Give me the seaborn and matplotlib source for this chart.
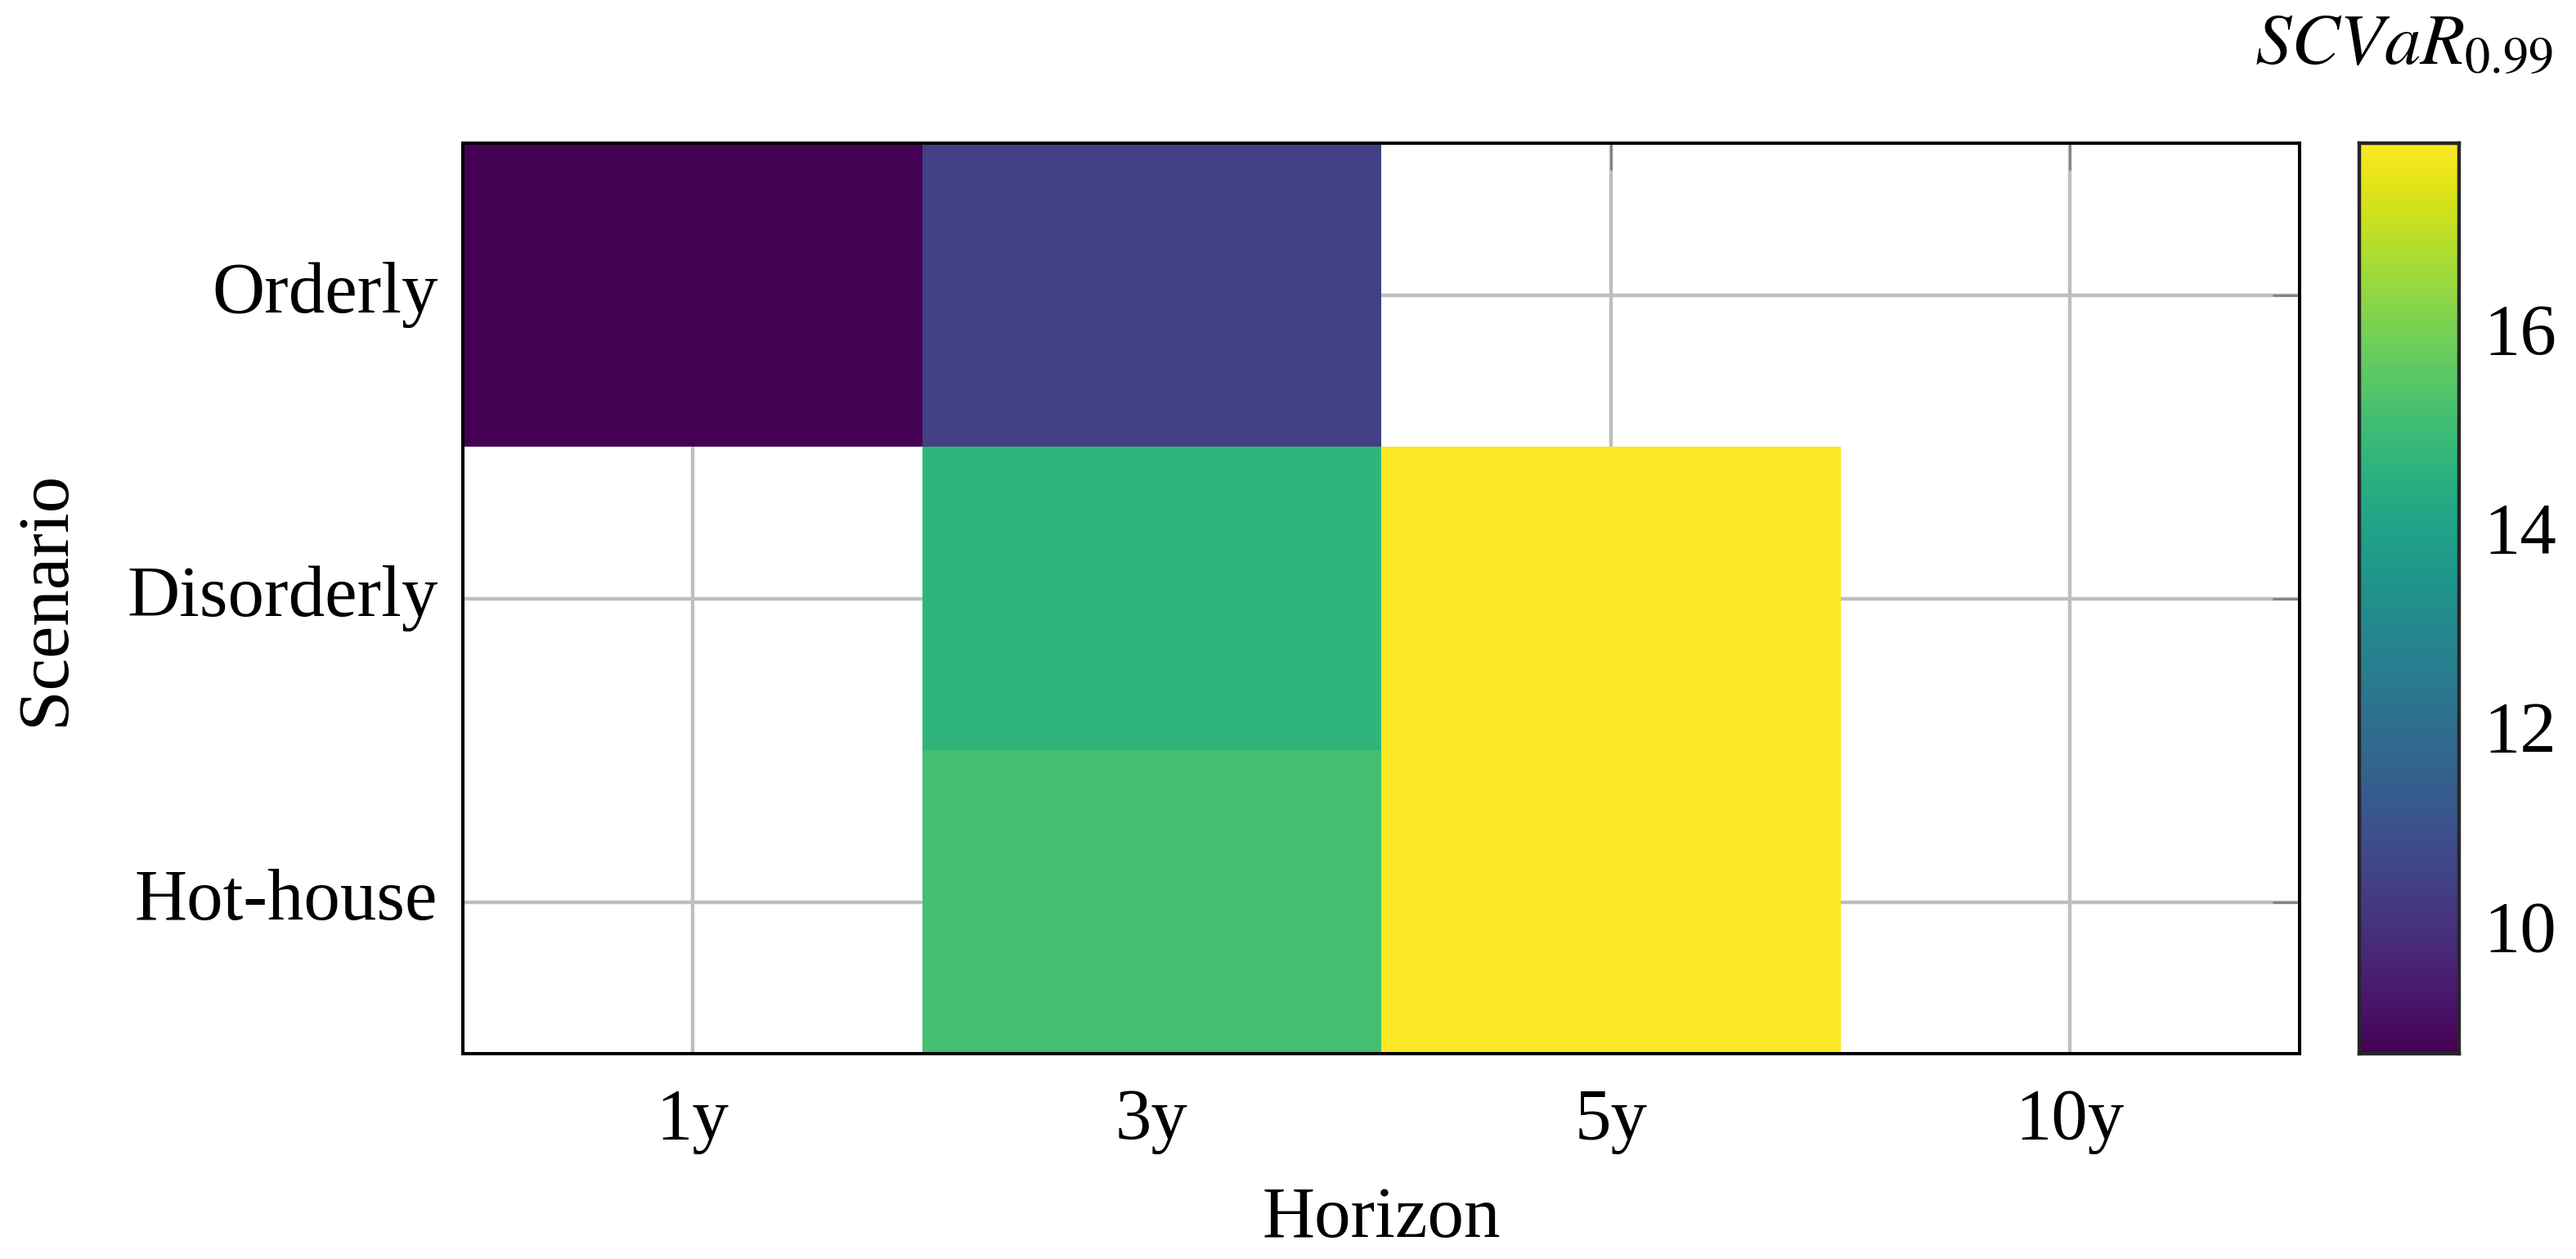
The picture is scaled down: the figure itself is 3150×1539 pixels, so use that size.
import matplotlib
matplotlib.use('Agg')
import matplotlib.pyplot as plt
import numpy as np
import pandas as pd
import seaborn as sns

# ---------------------------------------------------------------------------------------------------------
horizons = ['1y', '3y', '5y', '10y']
scenarios = ['Orderly', 'Disorderly', 'Hot-house']
orderly = [8.71, 10.4, np.nan, np.nan]
disorderly = [np.nan, 14.66, 17.87, np.nan]
hot_house = [np.nan, 15.12, 17.82, np.nan]
cbar_ticks = [10, 12, 14, 16]

sns.set_style('white')
plt.rcParams['font.family'] = ['Liberation Serif', 'DejaVu Serif']
plt.rcParams['mathtext.fontset'] = 'stix'
plt.rcParams.update({'font.size': 32, 'text.color': 'black',
                     'xtick.labelcolor': 'black', 'ytick.labelcolor': 'black',
                     'axes.labelcolor': 'black'})

df = pd.DataFrame([orderly, disorderly, hot_house], index=scenarios, columns=horizons)

fig = plt.figure(figsize=(15.75, 7.695), dpi=200)
ax = fig.add_axes([0.1797, 0.163, 0.713, 0.7233])
cax = fig.add_axes([0.9159, 0.163, 0.0387, 0.7233])

# grid sits under the cells, only visible where values are missing
ax.set_axisbelow(True)
sns.heatmap(df, ax=ax, cbar_ax=cax, cmap='viridis', vmin=8.71, vmax=17.87,
            cbar_kws={'ticks': cbar_ticks})
ax.grid(True, color='#bebebe', linewidth=1.6, zorder=0)

for side in ['left', 'right', 'top', 'bottom']:
    ax.spines[side].set_visible(True)
    ax.spines[side].set_color('black')
    ax.spines[side].set_linewidth(1.45)

ax.tick_params(axis='both', direction='in', length=12, width=1.0, color='#808080',
               top=True, right=True, labelsize=32)
ax.tick_params(axis='y', rotation=0, pad=11)
ax.tick_params(axis='x', rotation=0, pad=15)
ax.set_xlabel('Horizon', fontsize=32, labelpad=14)
ax.set_ylabel('Scenario', fontsize=32, labelpad=21)

cax.tick_params(direction='in', length=12, width=0.7, color='#808080',
                left=True, right=True, labelsize=32, pad=11)
for side in ['left', 'right', 'top', 'bottom']:
    cax.spines[side].set_visible(True)
    cax.spines[side].set_linewidth(1.6)

fig.text(0.991, 0.949, r'$SCVaR_{0.99}$', ha='right', va='baseline', fontsize=32)

plt.savefig('out.png', dpi=200, facecolor='white')
